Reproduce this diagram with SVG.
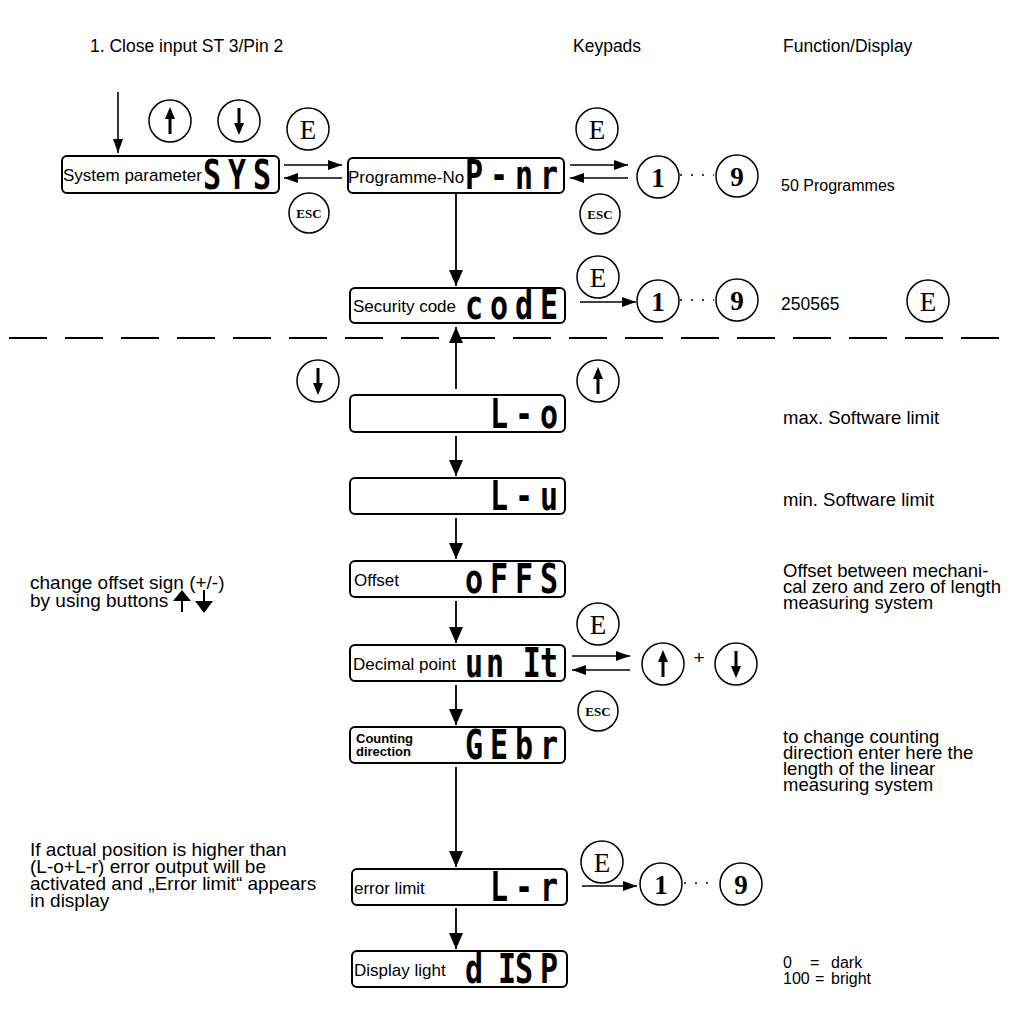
<svg xmlns="http://www.w3.org/2000/svg" xmlns:xlink="http://www.w3.org/1999/xlink" width="1012" height="1023" viewBox="0 0 1012 1023">
<style>
.t{font-family:"Liberation Sans",Arial,sans-serif;font-size:17.5px;fill:#000}
.s{font-family:"Liberation Sans",Arial,sans-serif;font-size:16px;fill:#000}
.n{font-family:"Liberation Sans",Arial,sans-serif;font-size:18.5px;fill:#000}
.nl{font-family:"Liberation Sans",Arial,sans-serif;font-size:19px;fill:#000}
.lb{font-family:"Liberation Sans",Arial,sans-serif;font-size:17px;fill:#000}
.lbb{font-family:"Liberation Sans",Arial,sans-serif;font-size:13px;font-weight:bold;fill:#000}
.seg{font-family:"DejaVu Sans Mono",monospace;font-weight:bold;font-size:40px;fill:#000}
.box{fill:#fff;stroke:#000;stroke-width:2}
.key{fill:#fff;stroke:#000;stroke-width:1.5}
.ke{font-family:"Liberation Serif","Times New Roman",serif;font-size:27px;text-anchor:middle;fill:#000}
.kn{font-family:"Liberation Serif","Times New Roman",serif;font-size:27px;font-weight:bold;text-anchor:middle;fill:#000}
.kesc{font-family:"Liberation Serif","Times New Roman",serif;font-size:13px;font-weight:bold;text-anchor:middle;fill:#000}
.c{stroke:#000;stroke-width:1.6;fill:none}
.cb{stroke:#000;stroke-width:1.8;fill:none}
</style>
<defs>
<marker id="a" viewBox="0 0 14 10" refX="14" refY="5" markerWidth="14" markerHeight="10" markerUnits="userSpaceOnUse" orient="auto"><path d="M0,0 L14,5 L0,10 z"/></marker>
<marker id="ab" viewBox="0 0 16 14" refX="16" refY="7" markerWidth="16" markerHeight="14" markerUnits="userSpaceOnUse" orient="auto"><path d="M0,0 L16,7 L0,14 z"/></marker>
<g id="up"><circle class="key" r="21"/><path d="M0,13 V-2" stroke="#000" stroke-width="3"/><path d="M-5,-2 L5,-2 L0,-14 z"/></g>
<g id="dn"><circle class="key" r="21"/><path d="M0,-13 V2" stroke="#000" stroke-width="3"/><path d="M-5,2 L5,2 L0,14 z"/></g>
</defs>
<rect width="1012" height="1023" fill="#fff"/>

<g id="headers">
<text class="t" x="90" y="52">1. Close input ST 3/Pin 2</text>
<text class="t" x="573" y="52">Keypads</text>
<text class="t" x="783" y="52">Function/Display</text>
</g>

<g id="divider"><line x1="9" y1="338" x2="1003" y2="338" stroke="#000" stroke-width="1.8" stroke-dasharray="38 18"/></g>

<g id="connectors">
<line class="c" x1="118" y1="92" x2="118" y2="153" marker-end="url(#a)"/>
<line class="c" x1="284" y1="165" x2="342" y2="165" marker-end="url(#a)"/>
<line class="c" x1="342" y1="178" x2="284" y2="178" marker-end="url(#a)"/>
<line class="c" x1="570" y1="165" x2="628" y2="165" marker-end="url(#a)"/>
<line class="c" x1="628" y1="178" x2="570" y2="178" marker-end="url(#a)"/>
<line class="c" x1="680" y1="175" x2="714" y2="175" stroke-dasharray="2 9"/>
<line class="cb" x1="456" y1="194" x2="456" y2="286" marker-end="url(#ab)"/>
<line class="c" x1="580" y1="302" x2="636" y2="302" marker-end="url(#a)"/>
<line class="c" x1="680" y1="300" x2="714" y2="300" stroke-dasharray="2 9"/>
<line class="cb" x1="456" y1="389" x2="456" y2="327" marker-end="url(#ab)"/>
<line class="cb" x1="456" y1="436" x2="456" y2="476" marker-end="url(#ab)"/>
<line class="cb" x1="456" y1="518" x2="456" y2="559" marker-end="url(#ab)"/>
<line class="cb" x1="456" y1="601" x2="456" y2="643" marker-end="url(#ab)"/>
<line class="c" x1="572" y1="656" x2="630" y2="656" marker-end="url(#a)"/>
<line class="c" x1="630" y1="670" x2="572" y2="670" marker-end="url(#a)"/>
<line class="cb" x1="456" y1="685" x2="456" y2="725" marker-end="url(#ab)"/>
<line class="cb" x1="456" y1="767" x2="456" y2="867" marker-end="url(#ab)"/>
<line class="c" x1="582" y1="886" x2="637" y2="886" marker-end="url(#a)"/>
<line class="c" x1="684" y1="883" x2="716" y2="883" stroke-dasharray="2 9"/>
<line class="cb" x1="456" y1="908" x2="456" y2="949" marker-end="url(#ab)"/>
</g>

<g id="keys">
<g id="k-up1"><use xlink:href="#up" x="170" y="121"/></g>
<g id="k-dn1"><use xlink:href="#dn" x="239" y="121"/></g>
<g id="k-e1"><circle class="key" cx="308" cy="129" r="21"/><text class="ke" x="308" y="139">E</text></g>
<g id="k-esc1"><circle class="key" cx="309" cy="213" r="20"/><text class="kesc" x="309" y="218">ESC</text></g>
<g id="k-e2"><circle class="key" cx="597" cy="129" r="21"/><text class="ke" x="597" y="139">E</text></g>
<g id="k-esc2"><circle class="key" cx="600" cy="214" r="20"/><text class="kesc" x="600" y="219">ESC</text></g>
<g id="k-1a"><circle class="key" cx="658" cy="177" r="21"/><text class="kn" x="658" y="187">1</text></g>
<g id="k-9a"><circle class="key" cx="737" cy="176" r="21"/><text class="kn" x="737" y="186">9</text></g>
<g id="k-e3"><circle class="key" cx="598" cy="277" r="21"/><text class="ke" x="598" y="287">E</text></g>
<g id="k-1b"><circle class="key" cx="658" cy="301" r="21"/><text class="kn" x="658" y="311">1</text></g>
<g id="k-9b"><circle class="key" cx="737" cy="300" r="21"/><text class="kn" x="737" y="310">9</text></g>
<g id="k-e4"><circle class="key" cx="928" cy="301" r="21"/><text class="ke" x="928" y="311">E</text></g>
<g id="k-dn2"><use xlink:href="#dn" x="318" y="381"/></g>
<g id="k-up2"><use xlink:href="#up" x="598" y="381"/></g>
<g id="k-e5"><circle class="key" cx="598" cy="624" r="21"/><text class="ke" x="598" y="634">E</text></g>
<g id="k-up3"><use xlink:href="#up" x="663" y="664"/></g>
<text class="nl" x="699" y="664" text-anchor="middle">+</text>
<g id="k-dn3"><use xlink:href="#dn" x="736" y="664"/></g>
<g id="k-esc3"><circle class="key" cx="598" cy="711" r="20"/><text class="kesc" x="598" y="716">ESC</text></g>
<g id="k-e6"><circle class="key" cx="602" cy="862" r="21"/><text class="ke" x="602" y="872">E</text></g>
<g id="k-1c"><circle class="key" cx="661" cy="884" r="21"/><text class="kn" x="661" y="894">1</text></g>
<g id="k-9c"><circle class="key" cx="741" cy="884" r="21"/><text class="kn" x="741" y="894">9</text></g>
</g>

<g id="n-sys"><rect class="box" x="62" y="156" width="217" height="37" rx="5"/><text class="lb" x="63" y="181">System parameter</text><text class="seg" transform="scale(0.75,1)" x="270.7 304 337.3" y="189">SYS</text></g>
<g id="n-pnr"><rect class="box" x="348" y="158" width="216" height="35" rx="5"/><text class="lb" x="348" y="183">Programme-No</text><text class="seg" transform="scale(0.75,1)" x="620 653.3 686.7 720" y="189">P-nr</text></g>
<g id="n-code"><rect class="box" x="350" y="288" width="215" height="35" rx="5"/><text class="lb" x="353" y="312">Security code</text><text class="seg" transform="scale(0.75,1)" x="620 653.3 686.7 720" y="319">codE</text></g>
<g id="n-lo"><rect class="box" x="350" y="395" width="215" height="37" rx="5"/><text class="seg" transform="scale(0.75,1)" x="653.3 686.7 720" y="428">L-o</text></g>
<g id="n-lu"><rect class="box" x="350" y="478" width="215" height="36" rx="5"/><text class="seg" transform="scale(0.75,1)" x="653.3 686.7 720" y="510">L-u</text></g>
<g id="n-offs"><rect class="box" x="350" y="561" width="215" height="36" rx="5"/><text class="lb" x="354" y="586">Offset</text><text class="seg" transform="scale(0.75,1)" x="620 653.3 686.7 720" y="593">oFFS</text></g>
<g id="n-unit"><rect class="box" x="350" y="645" width="215" height="36" rx="5"/><text class="lb" x="353" y="670">Decimal point</text><text class="seg" transform="scale(0.75,1)" x="620 648 697 720" y="677">unIt</text></g>
<g id="n-gebr"><rect class="box" x="350" y="727" width="215" height="36" rx="5"/><text class="lbb" x="356" y="743">Counting</text><text class="lbb" x="356" y="756">direction</text><text class="seg" transform="scale(0.75,1)" x="620 653.3 686.7 720" y="759">GEbr</text></g>
<g id="n-lr"><rect class="box" x="352" y="869" width="215" height="36" rx="5"/><text class="lb" x="354" y="894">error limit</text><text class="seg" transform="scale(0.75,1)" x="653.3 686.7 720" y="901">L-r</text></g>
<g id="n-disp"><rect class="box" x="352" y="951" width="215" height="36" rx="5"/><text class="lb" x="354" y="976">Display light</text><text class="seg" transform="scale(0.75,1)" x="620 664 686.7 720" y="983">dISP</text></g>

<g id="notes-left">
<text class="nl" x="30" y="589">change offset sign (+/-)</text>
<text class="nl" x="30" y="607">by using buttons</text>
<path d="M182,612 V600" stroke="#000" stroke-width="2"/><path d="M173,601 L191,601 L182,590 z"/>
<path d="M204,590 V602" stroke="#000" stroke-width="2"/><path d="M195,601 L213,601 L204,613 z"/>
<text class="nl" x="30" y="856">If actual position is higher than</text>
<text class="nl" x="30" y="873">(L-o+L-r) error output will be</text>
<text class="nl" x="30" y="890">activated and „Error limit“ appears</text>
<text class="nl" x="30" y="907">in display</text>
</g>

<g id="notes-right">
<text class="s" x="781" y="191">50 Programmes</text>
<text class="t" x="781" y="310">250565</text>
<text class="n" x="783" y="424">max. Software limit</text>
<text class="n" x="783" y="506">min. Software limit</text>
<text class="n" x="783" y="577">Offset between mechani-</text>
<text class="n" x="783" y="593">cal zero and zero of length</text>
<text class="n" x="783" y="609">measuring system</text>
<text class="n" x="783" y="743">to change counting</text>
<text class="n" x="783" y="759">direction enter here the</text>
<text class="n" x="783" y="775">length of the linear</text>
<text class="n" x="783" y="791">measuring system</text>
<text class="s" x="783" y="968">0</text><text class="s" x="810" y="968">=</text><text class="s" x="831" y="968">dark</text>
<text class="s" x="783" y="984">100</text><text class="s" x="815" y="984">=</text><text class="s" x="831" y="984">bright</text>
</g>
</svg>
